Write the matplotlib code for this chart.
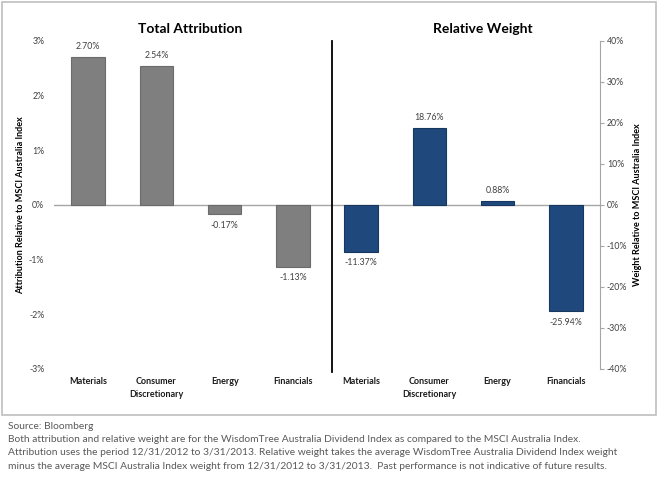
import matplotlib
matplotlib.use("Agg")
import matplotlib.pyplot as plt
from matplotlib.patches import Rectangle
import numpy as np

plt.rcParams['font.family'] = ['Lato', 'DejaVu Sans']

sectors = ["Materials", "Consumer\nDiscretionary", "Energy", "Financials"]
attribution = [2.70, 2.54, -0.17, -1.13]      # % , left scale
rel_weight = [-11.37, 18.76, 0.88, -25.94]    # % , right scale
left_ticks = [-3, -2, -1, 0, 1, 2, 3]
right_ticks = [-40, -30, -20, -10, 0, 10, 20, 30, 40]

footnote = ("Source: Bloomberg\n"
            "Both attribution and relative weight are for the WisdomTree Australia Dividend Index as compared to the MSCI Australia Index.\n"
            "Attribution uses the period 12/31/2012 to 3/31/2013. Relative weight takes the average WisdomTree Australia Dividend Index weight\n"
            "minus the average MSCI Australia Index weight from 12/31/2012 to 3/31/2013.  Past performance is not indicative of future results.")

fig = plt.figure(figsize=(6.6, 4.83), dpi=100)
ax = fig.add_axes([54/660, 1-369/483, 546/660, 328/483])
ax2 = ax.twinx()

x_left = np.arange(4)
x_right = np.arange(4, 8)
gray = "#7f7f7f"
blue = "#1f497d"

ax.bar(x_left, attribution, width=0.49, color=gray, edgecolor="#6b6b6b", linewidth=0.8, zorder=3)
ax2.bar(x_right, rel_weight, width=0.49, color=blue, edgecolor="#17375e", linewidth=0.8, zorder=3)

ax.set_xlim(-0.5, 7.5)
ax.set_ylim(-3, 3)
ax2.set_ylim(-40, 40)

for xi, v in zip(x_left, attribution):
    off = 0.12 if v >= 0 else -0.12
    ax.text(xi, v + off, f"{v:.2f}%", ha="center", va="bottom" if v >= 0 else "top",
            fontsize=6.3, color="#404040")
for xi, v in zip(x_right, rel_weight):
    off = 1.6 if v >= 0 else -1.6
    ax2.text(xi, v + off, f"{v:.2f}%", ha="center", va="bottom" if v >= 0 else "top",
             fontsize=6.3, color="#404040")

# zero line across both panels
ax.axhline(0, color="#a6a6a6", linewidth=1.0, zorder=2)

# divider
ax.plot([3.57, 3.57], [-3.05, 3], color="black", linewidth=1.3, clip_on=False, zorder=4)

for a in (ax, ax2):
    for s in a.spines.values():
        s.set_visible(False)

ax.set_yticks(left_ticks)
ax.set_yticklabels([f"{t}%" for t in left_ticks])
ax.tick_params(axis="y", length=0, pad=7, labelsize=6.3, labelcolor="#404040")

ax2.spines["right"].set_visible(True)
ax2.spines["right"].set_color("#a6a6a6")
ax2.set_yticks(right_ticks)
ax2.set_yticklabels([f"{t}%" for t in right_ticks])
ax2.tick_params(axis="y", direction="out", length=3, color="#a6a6a6", pad=2,
                labelsize=6.3, labelcolor="#404040")

ax.set_xticks(np.arange(8))
ax.set_xticklabels(sectors + sectors, fontsize=6.5, fontweight="bold", color="#1a1a1a",
                   linespacing=1.5)
ax.tick_params(axis="x", length=0, pad=6)

ax.set_ylabel("Attribution Relative to MSCI Australia Index", fontsize=6.5,
              fontweight="bold", labelpad=3)
ax2.set_ylabel("Weight Relative to MSCI Australia Index", fontsize=6.5,
               fontweight="bold", labelpad=4)

fig.text(190/660, 1-29/483, "Total Attribution", ha="center", va="center",
         fontsize=10, fontweight="bold")
fig.text(483/660, 1-29/483, "Relative Weight", ha="center", va="center",
         fontsize=10, fontweight="bold")

fig.patches.append(Rectangle((2/660, 1-415/483), 654/660, 413/483,
                             transform=fig.transFigure, fill=False,
                             edgecolor="#bfbfbf", linewidth=1.2))

fig.text(8/660, 1-422/483, footnote, ha="left", va="top", fontsize=7.4,
         color="#595959", linespacing=1.6)

fig.savefig("out.png", dpi=100)
